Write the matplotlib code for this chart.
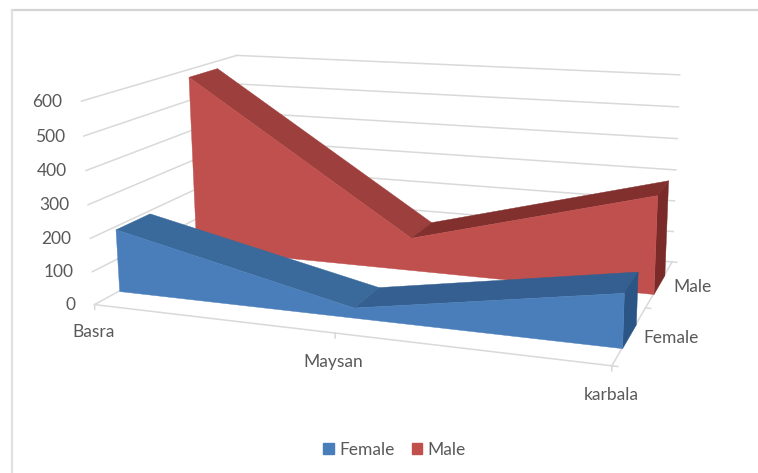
import matplotlib
import matplotlib.pyplot as plt
from matplotlib.lines import Line2D
from matplotlib.patches import Patch
from mpl_toolkits.mplot3d import proj3d
from mpl_toolkits.mplot3d.art3d import Poly3DCollection

matplotlib.use("Agg")
plt.rcParams["font.family"] = ["Lato", "DejaVu Sans"]

cities = ["Basra", "Maysan", "karbala"]
series_names = ["Female", "Male"]
female = [192, 30, 152]
male = [577, 105, 300]
z_ticks = [0, 100, 200, 300, 400, 500, 600]

WIDTH, HEIGHT = 758, 473
GRID = "#d9d9d9"
TEXT = "#595959"
DEPTH_GAP = 0.28
DEPTH_SIZE = 0.41
# front, first top strip, second top strip, end cap
BLUES = ["#4a7ebb", "#3a6a9c", "#345f90", "#2b5585"]
REDS = ["#c0504d", "#9d3f3d", "#81302e", "#7a2a28"]

fig = plt.figure(figsize=(WIDTH / 100, HEIGHT / 100), dpi=100)
ax = fig.add_subplot(projection="3d", computed_zorder=False)
ax.set_axis_off()
ax.patch.set_alpha(0)

# camera and axes box, placed so one data unit lands at a known pixel scale
scale, center_x, center_y = 3319.66, 395.28, 186.52
ax.set_proj_type("persp", focal_length=0.4056)
ax.view_init(elev=13.488, azim=-69.657, roll=0.531)
ax.set_box_aspect((2.5273, 1.6049, 1))
view = ax.viewLim
ax.set_position([
    (center_x + scale * view.x0) / WIDTH,
    (HEIGHT - center_y + scale * view.y0) / HEIGHT,
    scale * view.width / WIDTH,
    scale * view.height / HEIGHT,
])
last_x = len(cities) - 1
ax.set_xlim(0, last_x)
ax.set_ylim(0, len(series_names))
ax.set_zlim(z_ticks[0], z_ticks[-1])
proj = ax.get_proj()


def line(xs, ys, zs, zorder=1):
    ax.plot(xs, ys, zs, color=GRID, lw=1.1, zorder=zorder, clip_on=False)


def label(x, y, z, text, dx, dy, **kwargs):
    px, py, _ = proj3d.proj_transform(x, y, z, proj)
    ax.annotate(text, xy=(px, py), xycoords="data", xytext=(dx, dy), textcoords="offset pixels",
                color=TEXT, fontsize=12.5, annotation_clip=False, va="center", **kwargs)


def ribbon(values, depth, colors, zorder):
    y0 = depth + DEPTH_GAP
    y1 = y0 + DEPTH_SIZE
    xs = list(range(len(values)))
    faces = []
    # top strips sit behind the front face
    for i in range(len(values) - 1):
        faces.append(([(xs[i], y0, values[i]), (xs[i + 1], y0, values[i + 1]),
                       (xs[i + 1], y1, values[i + 1]), (xs[i], y1, values[i])], colors[i + 1]))
    faces.append(([(xs[-1], y0, 0), (xs[-1], y1, 0), (xs[-1], y1, values[-1]), (xs[-1], y0, values[-1])], colors[3]))
    front = [(x, y0, 0) for x in xs] + [(x, y0, v) for x, v in zip(xs[::-1], values[::-1])]
    faces.append((front, colors[0]))
    for n, (verts, color) in enumerate(faces):
        poly = Poly3DCollection([verts], facecolors=color, edgecolors=color, linewidths=0.3)
        poly.set_zorder(zorder + n * 0.1)
        ax.add_collection3d(poly, autolim=False)


# walls and floor
for z in z_ticks:
    line([0, 0], [0, 2], [z, z])
    line([0, last_x], [2, 2], [z, z])
line([0, last_x], [0, 0], [0, 0])
line([last_x, last_x], [0, 2], [0, 0])
for x, name in enumerate(cities):
    line([x, x], [0, 0], [0, -14])
    label(x, 0, 0, name, [-1, -2, -1][x], [-27, -29, -29][x], ha="center")
for d in range(3):
    line([last_x, last_x + 0.02], [d, d], [0, 0])
for z in z_ticks:
    label(0, 0, z, str(z), -19, -0.5, ha="right")
for d, name in enumerate(series_names):
    label(last_x, d + 0.5, 0, name, 14, -3, ha="left")

ribbon(male, 1, REDS, 3)
ribbon(female, 0, BLUES, 5)

# chart border along the top and left
frame_y = 1 - 10 / HEIGHT
frame_x = 12 / WIDTH
fig.add_artist(Line2D([frame_x, 1], [frame_y, frame_y], color="#d4d4d4", lw=1.6))
fig.add_artist(Line2D([frame_x, frame_x], [frame_y, 0], color="#e0e0e0", lw=1.6))

fig.legend(handles=[Patch(color=BLUES[0], label=series_names[0]), Patch(color=REDS[0], label=series_names[1])],
           loc="center", bbox_to_anchor=(394.5 / WIDTH, 1 - 450 / HEIGHT), ncol=2, frameon=False,
           fontsize=12.5, labelcolor=TEXT, handlelength=0.6, handleheight=0.6,
           handletextpad=0.3, columnspacing=1.0)

plt.savefig("out.png", dpi=100)
